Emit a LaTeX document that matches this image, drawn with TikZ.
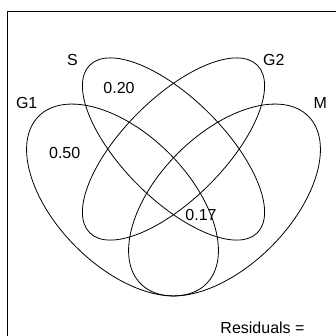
\documentclass[tikz,border=0pt]{standalone}
\usepackage{fontspec}
\setmainfont{Liberation Sans}
\usetikzlibrary{shapes.geometric}
\tikzset{
  setell/.style={draw,ellipse,inner sep=0pt,line width=0.8pt,minimum width=237pt,minimum height=#1},
  lbl/.style={font=\fontsize{16}{19}\selectfont,anchor=base,inner sep=0pt}
}
\begin{document}
\begin{tikzpicture}[x=1pt,y=-1pt]
  \useasboundingbox (0,0) rectangle (335,336);
  % Plot frame
  \draw[line width=0.8pt] (7,11) rectangle (360,360);

  % Sets
  \node[setell=101pt, rotate=-45] (S) at (173.5,149) {};
  \node[setell=101pt, rotate=45] (G2) at (173.5,149) {};
  \node[setell=132pt, rotate=-45] (G1) at (122.5,200) {};
  \node[setell=132pt, rotate=45] (M) at (224.5,200) {};

  % Set names
  \node[lbl] (nS) at (72.5,66) {S};
  \node[lbl] (nG2) at (273.8,66) {G2};
  \node[lbl] (nG1) at (26.7,108.3) {G1};
  \node[lbl] (nM) at (320.3,108.3) {M};

  % Region values
  \node[lbl] (v020) at (119,94) {0.20};
  \node[lbl] (v050) at (64.7,158.3) {0.50};
  \node[lbl] (v017) at (201,220.7) {0.17};

  \node[lbl] (res) at (262.5,333) {Residuals =};
\end{tikzpicture}
\end{document}
